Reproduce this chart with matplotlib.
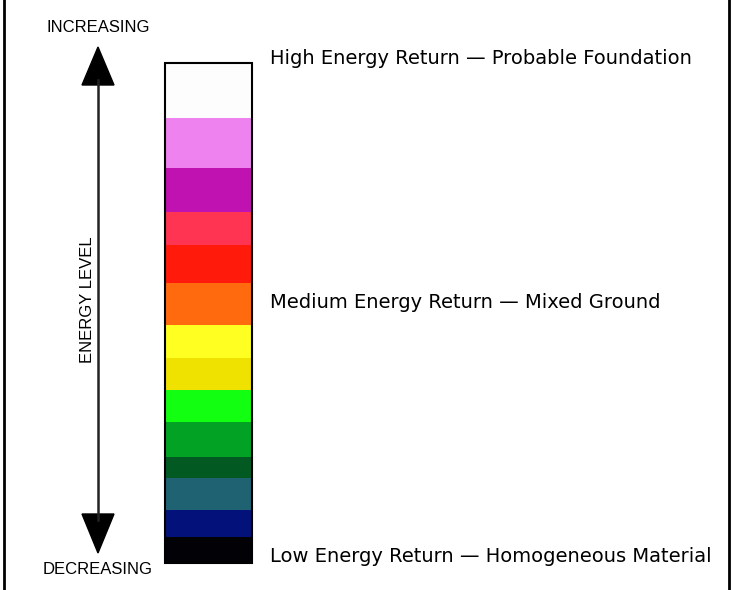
import matplotlib.pyplot as plt
from matplotlib.patches import Polygon, Rectangle

# colour bands from top (high energy) to bottom (low energy)
band_colors = [
    '#fdfdfd', '#ee82ee', '#c012b0', '#ff3352', '#ff1a0c', '#ff6a0e',
    '#ffff22', '#f0e200', '#12ff12', '#02a224', '#025a22', '#1f6372',
    '#02127a', '#020206',
]
# band edges, image pixel rows
band_edges = [63, 118, 168, 212, 245, 283, 325, 358, 390, 422, 457, 478, 510, 537, 563]

labels = [
    "High Energy Return \u2014 Probable Foundation",
    "Medium Energy Return \u2014 Mixed Ground",
    "Low Energy Return \u2014 Homogeneous Material",
]
label_rows = [58, 302, 557]

W, H = 734, 590
fig = plt.figure(figsize=(W / 100, H / 100), dpi=100)
ax = fig.add_axes([0, 0, 1, 1])
ax.set_xlim(0, W)
ax.set_ylim(H, 0)
ax.axis('off')

# outer frame, left and right only
ax.plot([4, 4], [0, H], color='black', lw=2)
ax.plot([729, 729], [0, H], color='black', lw=2)

# colour bar
x0, x1 = 165, 252
for i, c in enumerate(band_colors):
    top, bot = band_edges[i], band_edges[i + 1]
    ax.bar(x0, bot - top, bottom=top, width=x1 - x0, align='edge',
           color=c, edgecolor='none')
ax.add_patch(Rectangle((x0, band_edges[0]), x1 - x0, band_edges[-1] - band_edges[0],
                       fill=False, edgecolor='black', lw=1.5))

# double arrow
ax_x = 98
ax.plot([ax_x, ax_x], [80, 520], color='#222222', lw=1.8)
ax.add_patch(Polygon([[ax_x, 47], [ax_x - 16, 85], [ax_x + 16, 85]], color='black'))
ax.add_patch(Polygon([[ax_x, 553], [ax_x - 16, 514], [ax_x + 16, 514]], color='black'))

side = ['Liberation Sans', 'DejaVu Sans']
ax.text(ax_x, 27, "INCREASING", ha='center', va='center', fontsize=12, family=side)
ax.text(ax_x, 570, "DECREASING", ha='center', va='center', fontsize=12, family=side)
ax.text(87, 300, "ENERGY LEVEL", ha='center', va='center', rotation=90,
        fontsize=12, family=side)

for lab, row in zip(labels, label_rows):
    ax.text(270, row, lab, ha='left', va='center', fontsize=14, family='DejaVu Sans')

fig.savefig('out.png', dpi=100)
